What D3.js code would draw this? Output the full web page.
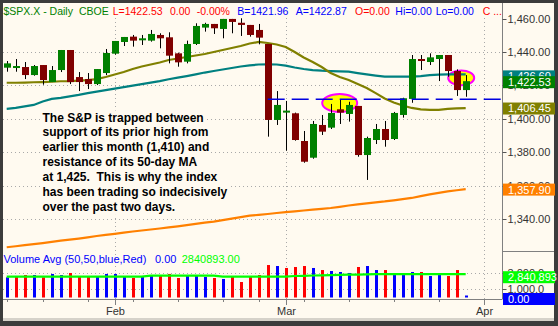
<!DOCTYPE html>
<html><head><meta charset="utf-8">
<script src="https://cdn.jsdelivr.net/npm/d3@7"></script>
<style>
body{margin:0;background:#3c3c3c;}
svg{display:block;font-family:"Liberation Sans",Arial,sans-serif;}
</style>
</head><body>
<svg id="c" width="558" height="326"></svg>
<script>
// ---------------- DATA ----------------
const dates = [
 "2007-01-16","2007-01-17","2007-01-18","2007-01-19","2007-01-22","2007-01-23","2007-01-24","2007-01-25","2007-01-26","2007-01-29","2007-01-30","2007-01-31",
 "2007-02-01","2007-02-02","2007-02-05","2007-02-06","2007-02-07","2007-02-08","2007-02-09","2007-02-12","2007-02-13","2007-02-14","2007-02-15","2007-02-16","2007-02-20","2007-02-21","2007-02-22","2007-02-23","2007-02-26","2007-02-27","2007-02-28",
 "2007-03-01","2007-03-02","2007-03-05","2007-03-06","2007-03-07","2007-03-08","2007-03-09","2007-03-12","2007-03-13","2007-03-14","2007-03-15","2007-03-16","2007-03-19","2007-03-20","2007-03-21","2007-03-22","2007-03-23","2007-03-26","2007-03-27","2007-03-28","2007-03-29","2007-03-30",
 "2007-04-02"];
const open  = [1430.6,1430.6,1431.0,1426.2,1432.2,1422.0,1429.2,1441.2,1425.0,1423.8,1420.8,1427.4,1439.0,1446.0,1449.2,1447.6,1446.8,1450.2,1448.8,1439.2,1434.2,1444.8,1454.6,1456.8,1453.8,1459.8,1457.5,1456.2,1453.2,1444.8,1399.3,1403.7,1403.3,1386.7,1376.7,1396.3,1394.7,1405.7,1402.9,1407.7,1378.3,1387.3,1393.9,1387.9,1402.3,1411.9,1435.8,1434.0,1435.8,1438.2,1428.6,1417.2];
const high  = [1434.6,1435.8,1434.0,1432.2,1432.2,1431.6,1441.2,1441.2,1428.0,1427.4,1429.8,1441.8,1446.6,1449.0,1450.2,1450.2,1453.2,1451.2,1451.8,1439.6,1446.8,1457.2,1457.5,1456.8,1459.8,1459.8,1460.2,1456.2,1456.8,1444.8,1416.6,1410.7,1403.7,1392.7,1398.7,1402.3,1408.9,1411.7,1410.2,1407.7,1389.3,1396.9,1398.7,1404.1,1412.6,1438.2,1438.2,1439.2,1438.2,1438.2,1429.6,1426.2];
const low   = [1428.2,1428.2,1423.8,1425.8,1420.4,1422.0,1428.0,1420.8,1416.6,1417.8,1420.2,1426.2,1438.4,1443.6,1443.2,1444.2,1446.2,1442.2,1433.2,1431.2,1433.2,1444.2,1452.2,1450.8,1448.2,1451.2,1449.6,1449.2,1444.6,1389.3,1396.3,1380.9,1386.9,1373.7,1376.1,1390.3,1393.9,1396.9,1398.3,1377.3,1363.4,1384.9,1383.3,1387.3,1400.7,1409.6,1429.2,1432.2,1422.6,1425.2,1413.7,1413.2];
const close = [1433.2,1431.6,1426.2,1431.6,1423.2,1429.2,1441.2,1422.0,1422.0,1420.8,1429.8,1439.4,1446.6,1449.0,1446.8,1448.2,1450.8,1448.2,1437.8,1433.8,1444.8,1455.6,1456.8,1454.2,1459.8,1458.0,1456.2,1450.2,1448.6,1399.3,1408.3,1404.9,1387.3,1374.3,1396.9,1392.3,1403.5,1403.7,1408.3,1378.3,1388.5,1393.9,1387.3,1403.5,1412.3,1435.8,1434.8,1436.8,1438.2,1428.6,1417.2,1422.53];
const ma20  = [1421.6,1421.6,1421.7,1421.9,1422.0,1422.2,1422.5,1422.6,1422.9,1423.2,1423.8,1425.0,1426.5,1428.0,1429.8,1431.3,1432.5,1433.7,1435.2,1436.1,1437.0,1437.9,1438.8,1440.0,1441.2,1442.4,1443.6,1445.1,1446.0,1445.4,1444.5,1443.0,1440.0,1436.7,1434.0,1431.0,1427.4,1425.0,1423.2,1420.8,1418.4,1415.4,1412.2,1409.8,1408.0,1406.5,1405.6,1405.3,1405.3,1405.9,1406.2,1406.45];
const ma50  = [1405.9,1406.5,1407.4,1408.3,1410.4,1411.9,1412.5,1413.4,1414.3,1415.4,1416.3,1417.2,1418.1,1419.0,1419.9,1420.8,1421.7,1422.6,1423.7,1424.7,1425.6,1426.6,1427.7,1428.6,1429.5,1430.4,1431.3,1432.0,1432.5,1432.6,1432.5,1431.8,1430.7,1429.8,1429.2,1428.8,1428.6,1428.4,1428.2,1427.4,1426.6,1425.9,1425.3,1425.2,1425.2,1425.2,1425.6,1426.2,1426.5,1426.6,1426.6,1426.6];
const ma200 = [1323.1,1323.7,1324.4,1325.0,1325.6,1326.3,1327.0,1327.7,1328.3,1329.0,1329.8,1330.5,1331.1,1331.8,1332.5,1333.1,1333.7,1334.3,1335.0,1335.6,1336.3,1337.1,1337.8,1338.4,1339.3,1340.2,1341.1,1342.0,1342.5,1343.0,1343.6,1344.1,1344.6,1345.1,1345.6,1346.1,1346.6,1347.3,1348.1,1348.8,1349.4,1350.0,1350.5,1351.2,1351.9,1352.6,1353.7,1354.7,1355.6,1356.5,1357.2,1357.9];
const volume = [2.46,2.62,2.74,2.74,2.46,2.87,2.74,2.99,2.62,2.62,2.62,2.87,2.87,2.50,2.38,2.62,2.62,2.74,2.87,2.38,2.62,2.62,2.50,2.38,2.26,2.62,1.89,2.50,2.74,3.96,3.84,3.60,3.72,3.84,3.60,3.35,3.23,3.11,2.99,3.72,3.84,3.35,3.35,2.74,2.74,3.11,3.11,2.62,2.74,2.62,3.35,0].map(v=>v*1e6);
const volAvg = [2.54,2.54,2.54,2.54,2.54,2.54,2.54,2.54,2.54,2.54,2.54,2.54,2.54,2.54,2.54,2.54,2.66,2.66,2.66,2.66,2.66,2.66,2.66,2.66,2.54,2.54,2.54,2.54,2.54,2.54,2.54,2.54,2.62,2.64,2.68,2.70,2.74,2.76,2.78,2.80,2.82,2.84,2.84,2.84,2.84,2.84,2.84,2.84,2.84,2.84,2.84,2.840893].map(v=>v*1e6);
const priceTicks = [1340,1360,1380,1400,1420,1440,1460];
const volTicks = [1e6,3e6];
const supportLevel = 1411.7;
const lastVolume = 2840893;
const annotation = [
 "The S&P is trapped between",
 "support of its prior high from",
 "earlier this month (1,410) and",
 "resistance of its 50-day MA",
 "at 1,425.  This is why the index",
 "has been trading so indecisively",
 "over the past two days."];
const highlights = [ {from:"2007-03-08", to:"2007-03-12", level:1409.5}, {from:"2007-03-28", to:"2007-03-29", level:1424.5} ];

// ---------------- CHART ----------------
const svg = d3.select("#c");
const W=558, H=326, L=3, R=502.5, TOP=3, PB=251, VB=299;
const x = d3.scalePoint().domain(dates).range([6.7, 483.7]);
const y = d3.scaleLinear().domain([1340,1440]).range([219,52]);
const vy = d3.scaleLinear().domain([0,3e6]).range([297.5,272.9]);
const GREEN="#008000", DRED="#800000", OLIVE="#808000", TEAL="#008080", ORANGE="#ff8000";

svg.append("rect").attr("width",W).attr("height",H).attr("fill","#3c3c3c");
svg.append("rect").attr("x",L).attr("y",TOP).attr("width",551).attr("height",315).attr("fill","#fffaf0");
svg.append("rect").attr("x",L).attr("y",318).attr("width",551).attr("height",3).attr("fill","#d6d2ca");

const plot = svg.append("g");
const clipId="pc";
svg.append("clipPath").attr("id",clipId).append("rect").attr("x",L).attr("y",TOP).attr("width",R-L).attr("height",VB-TOP);
plot.attr("clip-path",`url(#${clipId})`);

// grid
const grid = plot.append("g").attr("stroke","#a9a9a9").attr("stroke-width",1).attr("stroke-dasharray","1,3");
grid.selectAll(".hg").data(priceTicks.filter(v=>v<1450)).join("line")
  .attr("x1",L).attr("x2",R).attr("y1",d=>Math.round(y(d))+0.5).attr("y2",d=>Math.round(y(d))+0.5);
grid.selectAll(".vg").data(volTicks).join("line")
  .attr("x1",L).attr("x2",R).attr("y1",d=>Math.round(vy(d))+0.5).attr("y2",d=>Math.round(vy(d))+0.5);
const monthStarts = dates.filter((d,i)=>i>0 && d.slice(5,7)!==dates[i-1].slice(5,7));
grid.selectAll(".mg").data(monthStarts).join("line")
  .attr("x1",d=>Math.round(x(d))+0.5).attr("x2",d=>Math.round(x(d))+0.5).attr("y1",18).attr("y2",VB);

// highlight ellipses
plot.selectAll(".hl").data(highlights).join("ellipse")
  .attr("cx",d=>(x(d.from)+x(d.to))/2)
  .attr("cy",d=>y(d.level))
  .attr("rx",d=>(x(d.to)-x(d.from))/2+ (d.from===d.to?8:8.5))
  .attr("ry",d=>d.to==="2007-03-12"?9:7.3)
  .attr("fill","#ffff00").attr("stroke","#ff00ff").attr("stroke-width",2);

// moving averages
const cdates = dates.slice(0, close.length);
const line = d3.line().x((d,i)=>x(cdates[i])).y(d=>y(d));
[[ma200,ORANGE],[ma50,TEAL],[ma20,OLIVE]].forEach(([arr,c])=>{
  plot.append("path").datum(arr).attr("d",line).attr("fill","none").attr("stroke",c).attr("stroke-width",2.2);
});

// candles
const cg = plot.append("g");
cdates.forEach((d,i)=>{
  const cx = Math.round(x(d));
  cg.append("line").attr("x1",cx+0.5).attr("x2",cx+0.5).attr("y1",y(high[i])).attr("y2",y(low[i]))
    .attr("stroke","#000").attr("stroke-width",1);
  const top = y(Math.max(open[i],close[i])), bot = y(Math.min(open[i],close[i]));
  cg.append("rect").attr("x",cx-3).attr("width",7).attr("y",top).attr("height",Math.max(2,bot-top))
    .attr("fill",close[i]>=open[i]?GREEN:DRED);
});

// support dashed line
plot.append("line").attr("x1",x("2007-02-27")).attr("x2",R).attr("y1",y(supportLevel)).attr("y2",y(supportLevel))
  .attr("stroke","#0000e0").attr("stroke-width",1.6).attr("stroke-dasharray","17,7");

// volume
const vg = plot.append("g");
cdates.forEach((d,i)=>{
  const cx = Math.round(x(d));
  const prev = i>0?close[i-1]:open[i];
  const top = vy(volume[i]);
  const h = Math.max(2, vy(0)-top);
  vg.append("rect").attr("x",cx-1).attr("width",3).attr("y",vy(0)-h).attr("height",h)
    .attr("fill",close[i]>prev?"#0000ff":"#ff0000");
});
plot.append("path").datum(volAvg).attr("d",d3.line().x((d,i)=>x(cdates[i])).y(d=>vy(d)))
  .attr("fill","none").attr("stroke","#00ff00").attr("stroke-width",2.2);

// axes lines
const ax = svg.append("g").attr("stroke","#808080").attr("stroke-width",1);
ax.append("line").attr("x1",R).attr("x2",R).attr("y1",TOP).attr("y2",VB);
ax.append("line").attr("x1",L).attr("x2",R).attr("y1",VB+0.5).attr("y2",VB+0.5);
ax.append("line").attr("x1",R).attr("x2",554).attr("y1",PB+0.5).attr("y2",PB+0.5);

// y axis (price)
const fmt = d3.format(",.2f");
const yAxis = svg.append("g").attr("font-size",11).attr("fill","#333");
priceTicks.forEach(v=>{
  const yy = Math.round(y(v))+0.5;
  yAxis.append("line").attr("x1",R).attr("x2",R+4).attr("y1",yy).attr("y2",yy).attr("stroke","#555");
  yAxis.append("text").attr("x",R+5).attr("y",yy).attr("dy","0.36em").text(fmt(v));
});
// volume axis
const vfmt = v=>d3.format(",.1f")(v/1000);
volTicks.forEach(v=>{
  const yy = Math.round(vy(v))+0.5;
  yAxis.append("line").attr("x1",R).attr("x2",R+4).attr("y1",yy).attr("y2",yy).attr("stroke","#555");
  yAxis.append("text").attr("x",R+5).attr("y",yy).attr("dy","0.36em").text(vfmt(v));
});

// value boxes
const n = close.length-1;
const boxes = [
  {v:ma50[n], c:TEAL, s:y, t:fmt(ma50[n]), dy:1.5},
  {v:close[n], c:GREEN, s:y, t:fmt(close[n]), dy:0.5},
  {v:ma20[n], c:OLIVE, s:y, t:fmt(ma20[n])},
  {v:ma200[n], c:ORANGE, s:y, t:fmt(ma200[n])},
  {v:lastVolume, c:"#00ff00", s:vy, t:d3.format(",")(lastVolume), dy:2.5},
  {v:volume[n], c:"#0000ff", s:vy, t:"0.00", dy:1}
];
boxes.forEach(b=>{
  const cy = b.s(b.v)+0.5+(b.dy||0);
  svg.append("rect").attr("x",R+0.5).attr("y",cy-6).attr("width",52).attr("height",12).attr("fill",b.c);
  svg.append("text").attr("x",R+5.5).attr("y",cy).attr("dy","0.36em").attr("font-size",11).attr("fill","#fff").text(b.t);
});

// x axis
const xa = svg.append("g");
const weekStarts = dates.filter((d,i)=> i===0 || new Date(d).getUTCDay() < new Date(dates[i-1]).getUTCDay());
weekStarts.forEach(d=>{
  const xx = Math.round(x(d))+0.5;
  xa.append("line").attr("x1",xx).attr("x2",xx).attr("y1",VB).attr("y2",VB+3).attr("stroke","#808080");
});
const mfmt = d3.timeFormat("%b");
monthStarts.forEach(d=>{
  const xx = Math.round(x(d))+0.5;
  xa.append("line").attr("x1",xx).attr("x2",xx).attr("y1",VB).attr("y2",VB+6).attr("stroke","#808080");
  xa.append("text").attr("x",xx).attr("y",315).attr("text-anchor","middle").attr("font-size",11).attr("fill","#333")
    .text(mfmt(new Date(d+"T12:00:00Z")));
});

// header
const hdr = [
  ["$SPX.X - Daily",3.5,GREEN],["CBOE",79,GREEN],["L=1422.53",112.7,"#ff0000"],["0.00",170,"#ff0000"],
  ["-0.00%",196.7,"#ff0000"],["B=1421.96",237.3,"#0000ff"],["A=1422.87",295.7,"#0000ff"],["O=0.00",355,"#ff0000"],
  ["Hi=0.00",395.3,"#0000ff"],["Lo=0.00",435.7,"#0000ff"],["C ...",482.7,"#ff0000"]];
hdr.forEach(([t,xx,c])=>svg.append("text").attr("x",xx).attr("y",15).attr("font-size",10.5).attr("fill",c).text(t));

// volume header
svg.append("text").attr("x",3.5).attr("y",262.5).attr("font-size",11).attr("fill","#0000ff").text("Volume Avg (50,50,blue,Red)");
svg.append("text").attr("x",155).attr("y",262.5).attr("font-size",11).attr("fill","#0000ff").text("0.00");
svg.append("text").attr("x",181.7).attr("y",262.5).attr("font-size",11).attr("fill","#00ff00").text(d3.format(".2f")(lastVolume));

// annotation
const ag = svg.append("g");
annotation.forEach((t,i)=>{
  const by = 121.5 + i*14.9;
  const txt = ag.append("text").attr("x",42.5).attr("y",by).attr("font-size",12).attr("font-weight","bold")
    .attr("fill","#000").style("white-space","pre").text(t);
  const w = txt.node().getComputedTextLength();
  ag.insert("rect","text").attr("x",41).attr("y",by-11).attr("width",w+3).attr("height",15).attr("fill","#fffaf0");
});
</script>
</body></html>
